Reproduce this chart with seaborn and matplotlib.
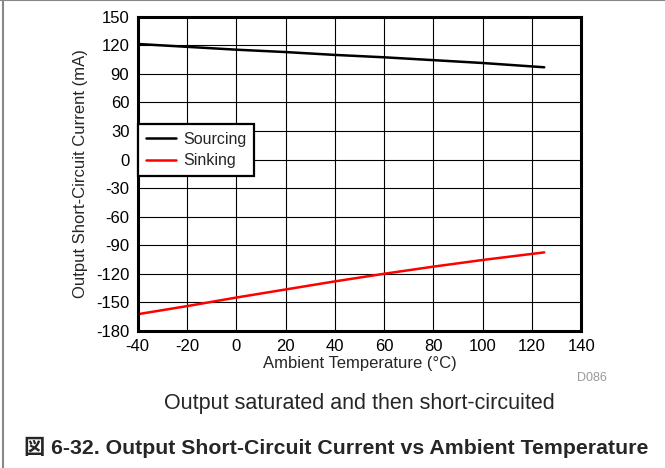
import numpy as np
import pandas as pd
import seaborn as sns
import matplotlib.pyplot as plt
from matplotlib.lines import Line2D

# values
temp = [-40, -20, 0, 20, 40, 60, 80, 100, 125]
sourcing = [121.5, 118.5, 115.5, 113, 110, 107.5, 104.5, 101.5, 97]
sinking = [-162.5, -154, -145, -136.5, -128, -120, -112.5, -105.5, -97.5]

x_ticks = [-40, -20, 0, 20, 40, 60, 80, 100, 120, 140]
y_ticks = [150, 120, 90, 60, 30, 0, -30, -60, -90, -120, -150, -180]

df = pd.DataFrame({
    'Temp': temp * 2,
    'Current': sourcing + sinking,
    'Series': ['Sourcing'] * len(temp) + ['Sinking'] * len(temp),
})

sns.set_theme(style='white')
plt.rcParams['font.family'] = ['Liberation Sans', 'Noto Sans CJK JP', 'DejaVu Sans']
plt.rcParams['axes.unicode_minus'] = False

fig = plt.figure(figsize=(6.65, 4.68), dpi=100)
ax = fig.add_axes([0.207, 0.293, 0.667, 0.671])

sns.lineplot(data=df, x='Temp', y='Current', hue='Series',
             palette={'Sourcing': 'black', 'Sinking': '#ff0000'},
             linewidth=1.8, ax=ax, legend=False)

ax.set_xlim(-40, 140)
ax.set_ylim(-180, 150)
ax.set_xticks(x_ticks)
ax.set_yticks(y_ticks)
ax.grid(True, color='black', linewidth=0.8)
ax.tick_params(length=0, labelsize=12, pad=6, colors='black')
for s in ax.spines.values():
    s.set_color('black')
    s.set_linewidth(2.2)

ax.set_xlabel('Ambient Temperature (°C)', fontsize=12, labelpad=1)
ax.set_ylabel('Output Short-Circuit Current (mA)', fontsize=12, labelpad=6)

handles = [Line2D([], [], color='black', lw=1.8),
           Line2D([], [], color='#ff0000', lw=1.8)]
leg = ax.legend(handles, ['Sourcing', 'Sinking'], loc='upper left',
                bbox_to_anchor=(0, 0.659), borderaxespad=0, fontsize=11.5,
                frameon=True, fancybox=False, handlelength=1.9,
                handletextpad=0.45, labelspacing=0.4, borderpad=0.5)
leg.get_frame().set_edgecolor('black')
leg.get_frame().set_linewidth(1.6)
leg.get_frame().set_alpha(1)

fig.text(592 / 665, 1 - 378 / 468, 'D086', fontsize=9, color='#999999',
         ha='center', va='center')
fig.text(359 / 665, 1 - 404 / 468, 'Output saturated and then short-circuited',
         fontsize=15.5, ha='center', va='center')
fig.text(24 / 665, 1 - 447 / 468,
         '図 6-32. Output Short-Circuit Current vs Ambient Temperature',
         fontsize=15.3, fontweight='bold', ha='left', va='center')

# outer frame lines (top and left)
fig.add_artist(Line2D([0, 1], [0.999, 0.999], color='#888888', lw=1.5,
                      transform=fig.transFigure))
fig.add_artist(Line2D([0.005, 0.005], [0, 1], color='#888888', lw=1.5,
                      transform=fig.transFigure))

fig.savefig('out.png', dpi=100)
